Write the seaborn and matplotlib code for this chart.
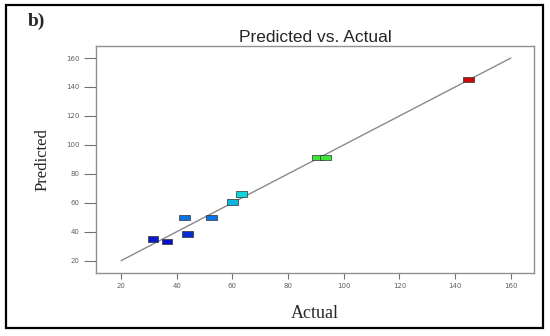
import numpy as np
import pandas as pd
import matplotlib
matplotlib.use("Agg")
import matplotlib.pyplot as plt
import seaborn as sns
from matplotlib.colors import LinearSegmentedColormap
from matplotlib.patches import Rectangle

# Data
actual = [31.5, 36.5, 42.7, 43.8, 52.4, 60.1, 63.2, 90.6, 93.3, 144.7]
predicted = [35.1, 33.2, 49.9, 38.5, 49.9, 60.5, 66.1, 91.1, 91.1, 145.0]
ideal_line = [20, 160]
ticks = [20, 40, 60, 80, 100, 120, 140, 160]

df = pd.DataFrame({"Actual": actual, "Predicted": predicted})

# Design-Expert like spectrum
spectrum = LinearSegmentedColormap.from_list(
    "spectrum",
    [(0.0, "#0a10c8"), (0.1, "#0a50e6"), (0.2, "#0a9ae8"),
     (0.3, "#10d8d8"), (0.52, "#3ee63a"), (0.75, "#e8e020"), (1.0, "#c80a0a")],
)

sns.set_style("white")

fig = plt.figure(figsize=(5.5, 3.36), dpi=100)
ax = fig.add_axes([0.1745, 0.1875, 0.7964, 0.6756])

# diagonal reference line
sns.lineplot(x=ideal_line, y=ideal_line, ax=ax, color="#8a8a8a", linewidth=1.0)

rect = [(-1, -0.5), (1, -0.5), (1, 0.5), (-1, 0.5), (-1, -0.5)]
sns.scatterplot(data=df, x="Actual", y="Predicted", hue="Predicted",
                palette=spectrum, hue_norm=(33, 145), marker=rect, s=60,
                edgecolor="#303030", linewidth=0.5, legend=False, ax=ax, zorder=3)

ax.set_xlim(11, 168.3)
ax.set_ylim(11.5, 168.3)
ax.set_xticks(ticks)
ax.set_yticks(ticks)
ax.tick_params(axis="y", direction="out", length=9, width=0.8, color="#707070",
               labelsize=5, labelcolor="#606060", pad=3, left=True)
ax.tick_params(axis="x", direction="out", length=4.5, width=0.8, color="#707070",
               labelsize=5, labelcolor="#606060", pad=3, bottom=True)
for sp in ax.spines.values():
    sp.set_color("#909090")
    sp.set_linewidth(1.0)

ax.set_title("Predicted vs. Actual", fontsize=12.5, family="Liberation Sans", pad=3)
ax.set_xlabel("Actual", fontsize=13, family="Liberation Serif", labelpad=11)
ax.set_ylabel("Predicted", fontsize=12, family="Liberation Serif", labelpad=11)

fig.text(0.05, 0.935, "b)", fontsize=14, fontweight="bold", family="Liberation Serif",
         ha="left", va="center")

# outer frame
fig.patches.append(Rectangle((0.011, 1 - 328 / 336), 0.976, (328 - 5) / 336,
                             transform=fig.transFigure, fill=False,
                             edgecolor="black", linewidth=1.6))

fig.savefig("out.png", dpi=100)
